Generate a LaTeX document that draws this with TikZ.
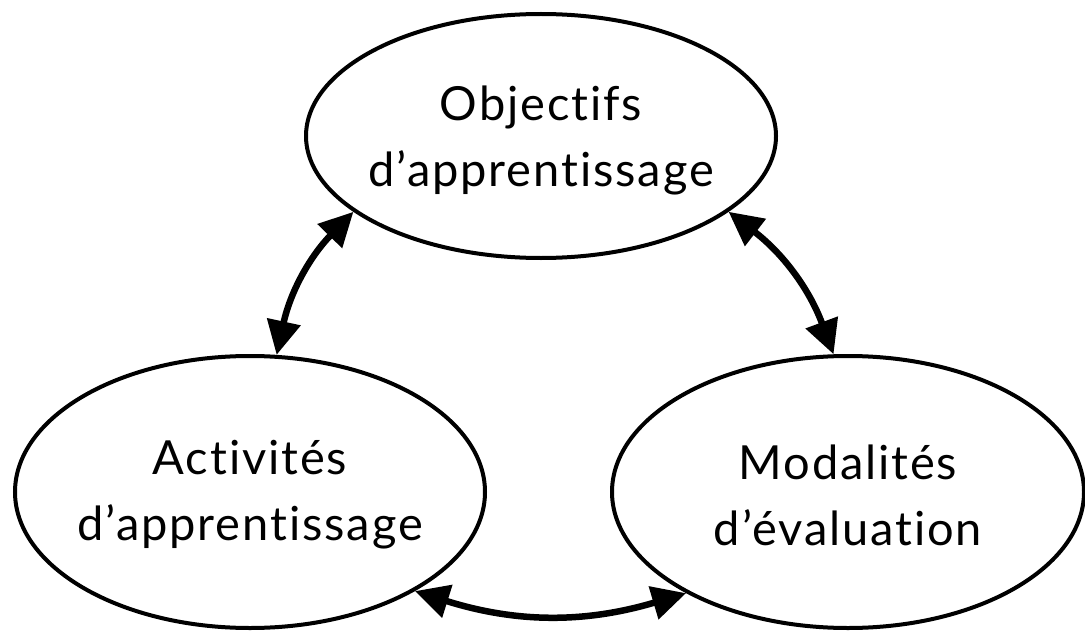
\documentclass[tikz,border=0pt]{standalone}
\usepackage{fontspec}
\setmainfont{Lato}[Ligatures={NoCommon,NoRequired,NoContextual},LetterSpace=4]
\usetikzlibrary{shapes.geometric,arrows.meta}
\tikzset{
  bubble/.style={draw=black, line width=4pt, ellipse, inner sep=0pt},
  label text/.style={align=center, font=\fontsize{47}{66}\selectfont, inner sep=0pt},
  link/.style={line width=6.5pt, {Triangle[length=34pt,width=33pt]}-{Triangle[length=34pt,width=33pt]}}
}
\begin{document}
\begin{tikzpicture}[x=1pt,y=-1pt]
\useasboundingbox (0,0) rectangle (1085,634);
\node[bubble, minimum width=470pt, minimum height=244pt] (obj) at (541,136) {};
\node[bubble, minimum width=470pt, minimum height=272pt] (act) at (250,492) {};
\node[bubble, minimum width=472pt, minimum height=272pt] (mod) at (848,492) {};
\node[label text, yshift=-4pt] (objt) at (obj.center) {Objectifs\\d’apprentissage};
\node[label text, yshift=-3pt] (actt) at (act.center) {Activités\\d’apprentissage};
\node[label text, yshift=-3pt] (modt) at (mod.center) {Modalités\\d’évaluation};
\draw[link] (obj.202.7) to[bend right=16] (act.79.8);
\draw[link] (obj.338.5) to[bend left=16] (mod.96);
\draw[link] (act.329) to[bend right=17] (mod.212.7);
\end{tikzpicture}
\end{document}
